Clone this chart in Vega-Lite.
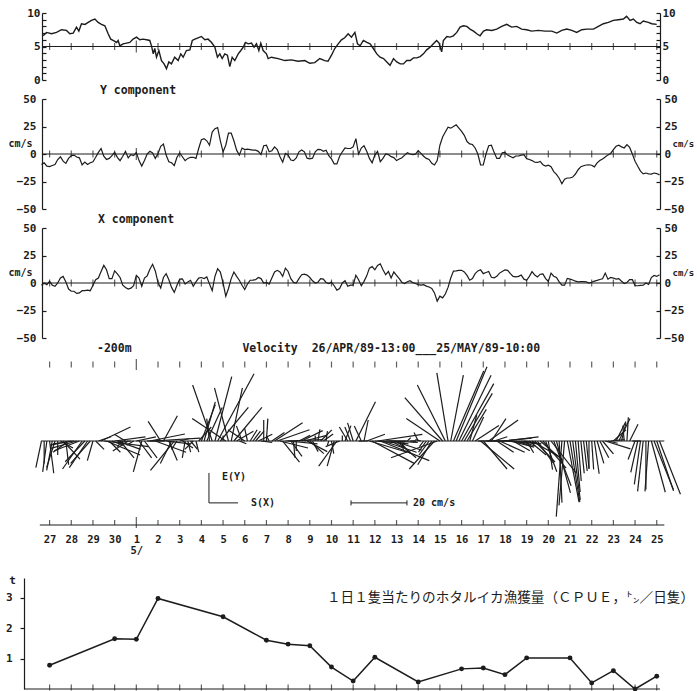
{
"$schema": "https://vega.github.io/schema/vega-lite/v6.json",
"background": "white",
"padding": {"left": 5, "top": 7, "right": 5, "bottom": 0},
"bounds": "flush",
"spacing": 19,
"config": {
  "view": {"stroke": null},
  "font": "DejaVu Sans Mono",
  "axis": {"labelFont": "DejaVu Sans Mono", "labelFontWeight": "bold", "labelFontSize": 11, "labelColor": "#1c1c1c", "domainColor": "#1c1c1c", "tickColor": "#1c1c1c", "grid": false, "domainWidth": 1.2, "tickWidth": 1.2, "titleFont": "DejaVu Sans Mono", "titleFontWeight": "bold", "titleFontSize": 10, "titleColor": "#1c1c1c"},
  "title": {"font": "DejaVu Sans Mono", "fontWeight": "bold", "fontSize": 11.5, "color": "#1c1c1c"},
  "line": {"color": "#1c1c1c", "strokeWidth": 1.2},
  "rule": {"color": "#1c1c1c", "strokeWidth": 1.2},
  "tick": {"color": "#1c1c1c"},
  "text": {"color": "#1c1c1c", "font": "DejaVu Sans Mono", "fontWeight": "bold", "fontSize": 10}
},
"datasets": {
  "days": [{"t":0},{"t":1},{"t":2},{"t":3},{"t":4},{"t":5},{"t":6},{"t":7},{"t":8},{"t":9},{"t":10},{"t":11},{"t":12},{"t":13},{"t":14},{"t":15},{"t":16},{"t":17},{"t":18},{"t":19},{"t":20},{"t":21},{"t":22},{"t":23},{"t":24},{"t":25},{"t":26},{"t":27},{"t":28}],
  "cpue": [{"t":0,"v":0.78},{"t":3,"v":1.65},{"t":4,"v":1.63},{"t":5,"v":2.97},{"t":8,"v":2.37},{"t":10,"v":1.6},{"t":11,"v":1.47},{"t":12,"v":1.42},{"t":13,"v":0.72},{"t":14,"v":0.26},{"t":15,"v":1.04},{"t":17,"v":0.23},{"t":19,"v":0.66},{"t":20,"v":0.69},{"t":21,"v":0.47},{"t":22,"v":1.02},{"t":24,"v":1.02},{"t":25,"v":0.2},{"t":26,"v":0.6},{"t":27,"v":0.0},{"t":28,"v":0.42}],
  "temp": [{"t":-0.30,"v":6.6},{"t":-0.14,"v":7.1},{"t":0.09,"v":6.9},{"t":0.32,"v":7.1},{"t":0.55,"v":7.5},{"t":0.78,"v":7.4},{"t":0.93,"v":6.9},{"t":1.09,"v":7.0},{"t":1.24,"v":7.9},{"t":1.35,"v":7.3},{"t":1.47,"v":8.4},{"t":1.63,"v":8.3},{"t":1.78,"v":8.6},{"t":1.93,"v":8.9},{"t":2.09,"v":9.1},{"t":2.24,"v":8.6},{"t":2.39,"v":8.3},{"t":2.55,"v":8.1},{"t":2.70,"v":6.9},{"t":2.82,"v":6.1},{"t":2.93,"v":5.9},{"t":3.09,"v":5.6},{"t":3.16,"v":5.9},{"t":3.24,"v":5.1},{"t":3.39,"v":5.4},{"t":3.55,"v":5.5},{"t":3.70,"v":5.6},{"t":3.85,"v":6.1},{"t":4.01,"v":6.4},{"t":4.16,"v":6.0},{"t":4.31,"v":6.1},{"t":4.47,"v":6.0},{"t":4.62,"v":5.9},{"t":4.70,"v":5.1},{"t":4.78,"v":3.9},{"t":4.85,"v":4.7},{"t":4.93,"v":3.4},{"t":5.04,"v":4.4},{"t":5.16,"v":2.9},{"t":5.28,"v":2.4},{"t":5.39,"v":1.7},{"t":5.50,"v":2.7},{"t":5.62,"v":2.4},{"t":5.77,"v":3.4},{"t":5.93,"v":2.9},{"t":6.05,"v":3.9},{"t":6.16,"v":3.4},{"t":6.31,"v":4.4},{"t":6.47,"v":4.5},{"t":6.58,"v":5.9},{"t":6.70,"v":6.1},{"t":6.85,"v":6.3},{"t":7.00,"v":6.5},{"t":7.16,"v":6.0},{"t":7.31,"v":6.1},{"t":7.47,"v":5.6},{"t":7.62,"v":4.9},{"t":7.74,"v":3.4},{"t":7.85,"v":3.9},{"t":7.96,"v":3.2},{"t":8.08,"v":3.9},{"t":8.20,"v":3.7},{"t":8.31,"v":2.0},{"t":8.42,"v":3.4},{"t":8.54,"v":2.9},{"t":8.70,"v":3.9},{"t":8.82,"v":4.4},{"t":8.93,"v":4.9},{"t":9.03,"v":5.6},{"t":9.16,"v":5.4},{"t":9.31,"v":5.5},{"t":9.43,"v":4.9},{"t":9.54,"v":5.4},{"t":9.65,"v":4.4},{"t":9.74,"v":5.5},{"t":9.85,"v":4.4},{"t":10.00,"v":3.9},{"t":10.08,"v":3.2},{"t":10.23,"v":3.4},{"t":10.54,"v":3.2},{"t":10.85,"v":2.9},{"t":11.15,"v":3.0},{"t":11.46,"v":2.8},{"t":11.77,"v":2.9},{"t":12.00,"v":2.5},{"t":12.23,"v":2.6},{"t":12.46,"v":3.2},{"t":12.69,"v":2.9},{"t":12.84,"v":2.8},{"t":13.00,"v":3.7},{"t":13.15,"v":4.7},{"t":13.31,"v":5.4},{"t":13.46,"v":6.0},{"t":13.61,"v":6.3},{"t":13.77,"v":6.9},{"t":13.92,"v":6.4},{"t":14.08,"v":7.1},{"t":14.20,"v":5.4},{"t":14.32,"v":5.1},{"t":14.47,"v":5.9},{"t":14.63,"v":5.6},{"t":14.78,"v":5.4},{"t":14.93,"v":4.7},{"t":15.09,"v":3.9},{"t":15.24,"v":3.4},{"t":15.40,"v":3.2},{"t":15.55,"v":2.7},{"t":15.70,"v":2.2},{"t":15.86,"v":3.2},{"t":16.01,"v":2.7},{"t":16.17,"v":2.4},{"t":16.32,"v":2.4},{"t":16.47,"v":2.9},{"t":16.63,"v":2.9},{"t":16.78,"v":3.3},{"t":16.93,"v":3.3},{"t":17.09,"v":3.5},{"t":17.24,"v":3.9},{"t":17.39,"v":4.5},{"t":17.55,"v":4.9},{"t":17.70,"v":5.4},{"t":17.85,"v":5.9},{"t":17.96,"v":5.5},{"t":18.08,"v":4.2},{"t":18.16,"v":5.9},{"t":18.32,"v":6.5},{"t":18.47,"v":6.4},{"t":18.62,"v":6.6},{"t":18.78,"v":7.1},{"t":18.93,"v":7.9},{"t":19.08,"v":8.1},{"t":19.24,"v":8.0},{"t":19.39,"v":7.6},{"t":19.55,"v":7.3},{"t":19.70,"v":6.9},{"t":19.85,"v":6.6},{"t":20.01,"v":7.3},{"t":20.16,"v":7.5},{"t":20.39,"v":7.4},{"t":20.62,"v":7.6},{"t":20.85,"v":8.0},{"t":21.08,"v":8.3},{"t":21.31,"v":7.9},{"t":21.54,"v":8.0},{"t":21.77,"v":7.6},{"t":22.00,"v":7.5},{"t":22.23,"v":7.3},{"t":22.54,"v":7.4},{"t":22.85,"v":7.3},{"t":23.16,"v":7.3},{"t":23.39,"v":7.0},{"t":23.62,"v":7.4},{"t":23.85,"v":7.6},{"t":24.08,"v":7.4},{"t":24.31,"v":7.1},{"t":24.54,"v":7.5},{"t":24.77,"v":7.6},{"t":25.08,"v":7.6},{"t":25.31,"v":8.0},{"t":25.54,"v":8.4},{"t":25.77,"v":8.6},{"t":26.00,"v":8.9},{"t":26.23,"v":9.0},{"t":26.46,"v":9.1},{"t":26.61,"v":9.5},{"t":26.77,"v":8.9},{"t":26.92,"v":9.1},{"t":27.08,"v":8.6},{"t":27.23,"v":8.4},{"t":27.38,"v":8.8},{"t":27.61,"v":8.6},{"t":27.77,"v":8.4},{"t":28.00,"v":8.3}],
  "vel": [{"t":-0.375,"y":-9.5,"x":-2},{"t":-0.25,"y":-8,"x":0},{"t":-0.125,"y":-11,"x":-1.5},{"t":0,"y":-11.5,"x":1.5},{"t":0.125,"y":-10.5,"x":-2},{"t":0.25,"y":-9.5,"x":-3},{"t":0.375,"y":-5,"x":0},{"t":0.5,"y":-2.5,"x":4.5},{"t":0.625,"y":-6.5,"x":6},{"t":0.75,"y":-8.5,"x":1},{"t":0.875,"y":-4,"x":-5.5},{"t":1,"y":-1.5,"x":-7.5},{"t":1.125,"y":-1,"x":-7.5},{"t":1.25,"y":-2.7,"x":-9.5},{"t":1.375,"y":-3.5,"x":-9},{"t":1.5,"y":-10,"x":-7},{"t":1.625,"y":-7.4,"x":-7},{"t":1.75,"y":-9.5,"x":-6.5},{"t":1.875,"y":-8,"x":-7},{"t":2,"y":-7,"x":-2},{"t":2.125,"y":-3,"x":3},{"t":2.25,"y":1.5,"x":4.5},{"t":2.375,"y":5,"x":10.5},{"t":2.5,"y":-2,"x":16},{"t":2.625,"y":-5,"x":12},{"t":2.75,"y":-4,"x":4},{"t":2.875,"y":-1.5,"x":4},{"t":3,"y":1.5,"x":11},{"t":3.125,"y":-3,"x":8.3},{"t":3.25,"y":-6,"x":5},{"t":3.375,"y":-2,"x":-2},{"t":3.5,"y":2.4,"x":-4},{"t":3.625,"y":-3.6,"x":-5.5},{"t":3.75,"y":-0.6,"x":-4.7},{"t":3.875,"y":-1.5,"x":-2.5},{"t":4,"y":1.5,"x":7},{"t":4.125,"y":-6,"x":4.5},{"t":4.25,"y":-11,"x":-3},{"t":4.375,"y":-6,"x":4.5},{"t":4.5,"y":0,"x":6.5},{"t":4.625,"y":2.5,"x":12.5},{"t":4.75,"y":1,"x":17},{"t":4.875,"y":-4,"x":11},{"t":5,"y":0.5,"x":0.5},{"t":5.125,"y":7,"x":-4.5},{"t":5.25,"y":9,"x":5},{"t":5.375,"y":-1,"x":8.5},{"t":5.5,"y":-7,"x":3},{"t":5.625,"y":-8,"x":-4},{"t":5.75,"y":-10.5,"x":-8.5},{"t":5.875,"y":-3,"x":-2},{"t":6,"y":0.9,"x":3.5},{"t":6.125,"y":-2.5,"x":3.8},{"t":6.25,"y":-6,"x":-1},{"t":6.375,"y":-4,"x":1},{"t":6.5,"y":-3,"x":2.5},{"t":6.625,"y":-3,"x":-3},{"t":6.75,"y":-4,"x":1},{"t":6.875,"y":5,"x":4.5},{"t":7,"y":13,"x":5},{"t":7.125,"y":14,"x":4},{"t":7.25,"y":12,"x":5.5},{"t":7.375,"y":8,"x":-1},{"t":7.5,"y":20,"x":-7},{"t":7.625,"y":23,"x":6},{"t":7.75,"y":24,"x":13},{"t":7.875,"y":12,"x":10},{"t":8,"y":2,"x":0},{"t":8.125,"y":8,"x":-12},{"t":8.25,"y":19,"x":-5},{"t":8.375,"y":19,"x":4},{"t":8.5,"y":12,"x":10},{"t":8.625,"y":3.5,"x":6},{"t":8.75,"y":-1,"x":2.5},{"t":8.875,"y":5.4,"x":-2},{"t":9,"y":4,"x":-6},{"t":9.125,"y":4.5,"x":-1},{"t":9.25,"y":4,"x":2.5},{"t":9.375,"y":3.5,"x":2.7},{"t":9.5,"y":3.5,"x":3},{"t":9.625,"y":2.4,"x":5},{"t":9.75,"y":-0.5,"x":4},{"t":9.875,"y":7.5,"x":0},{"t":10,"y":8,"x":0.5},{"t":10.125,"y":2,"x":-1},{"t":10.25,"y":3,"x":4.5},{"t":10.375,"y":6.5,"x":10},{"t":10.5,"y":4,"x":11.5},{"t":10.625,"y":-2.5,"x":10},{"t":10.75,"y":-7.5,"x":6},{"t":10.875,"y":0.5,"x":13.5},{"t":11,"y":-1,"x":10.5},{"t":11.125,"y":-5.5,"x":4},{"t":11.25,"y":-6,"x":0.5},{"t":11.375,"y":-3.6,"x":0},{"t":11.5,"y":2,"x":4},{"t":11.625,"y":3.7,"x":7.5},{"t":11.75,"y":2,"x":8},{"t":11.875,"y":-3.8,"x":7.2},{"t":12,"y":-4.5,"x":5},{"t":12.125,"y":-3.8,"x":2},{"t":12.25,"y":2,"x":0},{"t":12.375,"y":4.2,"x":0.7},{"t":12.5,"y":4,"x":4},{"t":12.625,"y":2.5,"x":3.5},{"t":12.75,"y":3.5,"x":0.5},{"t":12.875,"y":-1.5,"x":-0.5},{"t":13,"y":-4.5,"x":0.8},{"t":13.125,"y":-9,"x":-2.5},{"t":13.25,"y":-9,"x":-6.5},{"t":13.375,"y":-2,"x":-5},{"t":13.5,"y":2,"x":0},{"t":13.625,"y":5.5,"x":2.1},{"t":13.75,"y":5,"x":-3},{"t":13.875,"y":5,"x":-2},{"t":14,"y":6.5,"x":-2},{"t":14.125,"y":14,"x":7},{"t":14.25,"y":0,"x":3},{"t":14.375,"y":5.4,"x":-2.5},{"t":14.5,"y":7.5,"x":1.5},{"t":14.625,"y":2.4,"x":6.5},{"t":14.75,"y":-4,"x":13.5},{"t":14.875,"y":-8,"x":15},{"t":15,"y":-1,"x":12},{"t":15.125,"y":2.4,"x":16},{"t":15.25,"y":-7,"x":17.5},{"t":15.375,"y":-4,"x":12},{"t":15.5,"y":0,"x":7.5},{"t":15.625,"y":-0.5,"x":10.5},{"t":15.75,"y":-2.4,"x":4.5},{"t":15.875,"y":-3.3,"x":10},{"t":16,"y":-6,"x":7},{"t":16.125,"y":-4.5,"x":4},{"t":16.25,"y":-3.4,"x":0.5},{"t":16.375,"y":-1,"x":-0.5},{"t":16.5,"y":1.2,"x":1.2},{"t":16.625,"y":0,"x":2.1},{"t":16.75,"y":-0.5,"x":0.3},{"t":16.875,"y":-0.2,"x":-0.5},{"t":17,"y":3,"x":-1.5},{"t":17.125,"y":0.5,"x":-2},{"t":17.25,"y":-2,"x":-1.5},{"t":17.375,"y":-4,"x":-2.8},{"t":17.5,"y":-5,"x":-3.6},{"t":17.625,"y":-8.5,"x":-5},{"t":17.75,"y":-10,"x":-9},{"t":17.875,"y":-6,"x":-16.5},{"t":18,"y":8,"x":-12},{"t":18.125,"y":15.5,"x":-13.5},{"t":18.25,"y":20,"x":-10},{"t":18.375,"y":24.3,"x":-4},{"t":18.5,"y":23.5,"x":4.5},{"t":18.625,"y":25,"x":10.8},{"t":18.75,"y":26.5,"x":11},{"t":18.875,"y":23.5,"x":11.5},{"t":19,"y":20.5,"x":11.5},{"t":19.125,"y":17,"x":10},{"t":19.25,"y":11.3,"x":6.9},{"t":19.375,"y":9.2,"x":2.5},{"t":19.5,"y":8.6,"x":4},{"t":19.625,"y":5.5,"x":8.5},{"t":19.75,"y":0,"x":11},{"t":19.875,"y":-10,"x":12},{"t":20,"y":-10,"x":8.5},{"t":20.125,"y":0,"x":9.5},{"t":20.25,"y":7.5,"x":10.5},{"t":20.375,"y":8,"x":5.2},{"t":20.5,"y":1.5,"x":4.7},{"t":20.625,"y":-4,"x":6},{"t":20.75,"y":-4,"x":9},{"t":20.875,"y":1,"x":10.5},{"t":21,"y":1.5,"x":12},{"t":21.125,"y":-1,"x":11.5},{"t":21.25,"y":-2.2,"x":8.5},{"t":21.375,"y":-3.5,"x":6},{"t":21.5,"y":-1.8,"x":5.5},{"t":21.625,"y":-1.8,"x":6},{"t":21.75,"y":-1,"x":7.2},{"t":21.875,"y":-0.5,"x":3.5},{"t":22,"y":-4.2,"x":2.5},{"t":22.125,"y":-5,"x":6},{"t":22.25,"y":-6,"x":10.3},{"t":22.375,"y":-7.5,"x":7.2},{"t":22.5,"y":-7.7,"x":5.5},{"t":22.625,"y":-6.8,"x":8},{"t":22.75,"y":-9.7,"x":8.3},{"t":22.875,"y":-11,"x":4},{"t":23,"y":-10.2,"x":1.5},{"t":23.125,"y":-11.5,"x":9},{"t":23.25,"y":-16,"x":6.2},{"t":23.375,"y":-18.5,"x":5},{"t":23.5,"y":-22,"x":1},{"t":23.625,"y":-27,"x":-2},{"t":23.75,"y":-23,"x":-2},{"t":23.875,"y":-21.8,"x":4.2},{"t":24,"y":-21.8,"x":3.5},{"t":24.125,"y":-21,"x":2.7},{"t":24.25,"y":-18.2,"x":1.7},{"t":24.375,"y":-14.3,"x":1.1},{"t":24.5,"y":-11.5,"x":1.2},{"t":24.625,"y":-10.7,"x":1.3},{"t":24.75,"y":-10,"x":1},{"t":24.875,"y":-9.8,"x":0},{"t":25,"y":-10.2,"x":0.7},{"t":25.125,"y":-11.7,"x":1.7},{"t":25.25,"y":-8,"x":2.4},{"t":25.375,"y":-6,"x":3.2},{"t":25.5,"y":-4.6,"x":3.9},{"t":25.625,"y":-2.8,"x":9},{"t":25.75,"y":-0.8,"x":3.5},{"t":25.875,"y":0.5,"x":5},{"t":26,"y":4,"x":4.5},{"t":26.125,"y":7,"x":3.5},{"t":26.25,"y":8,"x":4},{"t":26.375,"y":6.5,"x":1.6},{"t":26.5,"y":5.5,"x":-0.5},{"t":26.625,"y":8.5,"x":0.5},{"t":26.75,"y":6,"x":3},{"t":26.875,"y":0,"x":3},{"t":27,"y":-6.6,"x":-2.5},{"t":27.125,"y":-11.2,"x":-2.5},{"t":27.25,"y":-15.5,"x":-2.2},{"t":27.375,"y":-18,"x":-2},{"t":27.5,"y":-17.3,"x":0},{"t":27.625,"y":-18,"x":-1.3},{"t":27.75,"y":-18.3,"x":5},{"t":27.875,"y":-17.3,"x":6.9},{"t":28,"y":-17.8,"x":6},{"t":28.125,"y":-19,"x":7.5}]
},
"vconcat": [
{
  "width": 618, "height": 67,
  "layer": [
    {"data": {"name": "temp"}, "mark": {"type": "line", "strokeWidth": 1.4},
     "encoding": {
       "x": {"field": "t", "type": "quantitative", "scale": {"domain": [-0.35, 28.15], "nice": false, "zero": false}, "axis": null},
       "y": {"field": "v", "type": "quantitative", "scale": {"domain": [0, 10], "nice": false}, "axis": {"orient": "left", "values": [0,1,2,3,4,5,6,7,8,9,10], "labelExpr": "datum.value % 5 === 0 ? datum.label : ''", "tickSize": -4, "labelPadding": 6, "title": null}}
     }},
    {"data": {"values": [{}]}, "mark": {"type": "rule"},
     "encoding": {
       "x": {"datum": -0.35, "type": "quantitative", "scale": {"domain": [-0.35, 28.15], "nice": false, "zero": false}, "axis": null},
       "x2": {"datum": 28.15},
       "y": {"datum": 5, "type": "quantitative", "scale": {"domain": [0, 10], "nice": false}, "axis": {"orient": "right", "values": [0,1,2,3,4,5,6,7,8,9,10], "labelExpr": "datum.value % 5 === 0 ? datum.label : ''", "tickSize": -4, "labelPadding": 6, "title": null}}
     }},
    {"data": {"name": "days"}, "mark": {"type": "tick", "orient": "vertical", "thickness": 1.2},
     "encoding": {
       "x": {"field": "t", "type": "quantitative", "scale": {"domain": [-0.35, 28.15], "nice": false, "zero": false}, "axis": null},
       "y": {"datum": 5, "type": "quantitative", "scale": {"domain": [0, 10], "nice": false}, "axis": null},
       "size": {"condition": {"test": "datum.t == 4", "value": 12}, "value": 7}
     }}
  ],
  "resolve": {"axis": {"y": "independent"}}
},
{
  "width": 618, "height": 110,
  "title": {"text": "Y component", "anchor": "start", "frame": "group", "dx": 58, "offset": -9, "baseline": "middle"},
  "layer": [
    {"data": {"name": "vel"}, "mark": {"type": "line", "strokeWidth": 1.2},
     "encoding": {
       "x": {"field": "t", "type": "quantitative", "scale": {"domain": [-0.35, 28.15], "nice": false, "zero": false}, "axis": null},
       "y": {"field": "y", "type": "quantitative", "scale": {"domain": [-50, 50], "nice": false}, "axis": {"orient": "left", "values": [-50,-25,0,25,50], "tickSize": -4, "labelPadding": 10, "title": "cm/s", "titleAngle": 0, "titleX": -10, "titleY": 44, "titleAlign": "right", "titleBaseline": "middle"}}
     }},
    {"data": {"values": [{}]}, "mark": {"type": "rule"},
     "encoding": {
       "x": {"datum": -0.35, "type": "quantitative", "scale": {"domain": [-0.35, 28.15], "nice": false, "zero": false}, "axis": null},
       "x2": {"datum": 28.15},
       "y": {"datum": 0, "type": "quantitative", "scale": {"domain": [-50, 50], "nice": false}, "axis": {"orient": "right", "values": [-50,-25,0,25,50], "tickSize": -4, "labelPadding": 8, "title": "cm/s", "titleAngle": 0, "titleX": 12, "titleY": 44, "titleAlign": "left", "titleBaseline": "middle", "titleFontSize": 9}}
     }},
    {"data": {"name": "days"}, "mark": {"type": "tick", "orient": "vertical", "thickness": 1.2},
     "encoding": {
       "x": {"field": "t", "type": "quantitative", "scale": {"domain": [-0.35, 28.15], "nice": false, "zero": false}, "axis": null},
       "y": {"datum": 0, "type": "quantitative", "scale": {"domain": [-50, 50], "nice": false}, "axis": null},
       "size": {"condition": {"test": "datum.t == 4", "value": 12}, "value": 7}
     }}
  ],
  "resolve": {"axis": {"y": "independent"}}
},
{
  "width": 618, "height": 110,
  "title": {"text": "X component", "anchor": "start", "frame": "group", "dx": 56, "offset": -9, "baseline": "middle"},
  "layer": [
    {"data": {"name": "vel"}, "mark": {"type": "line", "strokeWidth": 1.2},
     "encoding": {
       "x": {"field": "t", "type": "quantitative", "scale": {"domain": [-0.35, 28.15], "nice": false, "zero": false}, "axis": null},
       "y": {"field": "x", "type": "quantitative", "scale": {"domain": [-50, 50], "nice": false}, "axis": {"orient": "left", "values": [-50,-25,0,25,50], "tickSize": -4, "labelPadding": 10, "title": "cm/s", "titleAngle": 0, "titleX": -10, "titleY": 44, "titleAlign": "right", "titleBaseline": "middle"}}
     }},
    {"data": {"values": [{}]}, "mark": {"type": "rule"},
     "encoding": {
       "x": {"datum": -0.35, "type": "quantitative", "scale": {"domain": [-0.35, 28.15], "nice": false, "zero": false}, "axis": null},
       "x2": {"datum": 28.15},
       "y": {"datum": 0, "type": "quantitative", "scale": {"domain": [-50, 50], "nice": false}, "axis": {"orient": "right", "values": [-50,-25,0,25,50], "tickSize": -4, "labelPadding": 8, "title": "cm/s", "titleAngle": 0, "titleX": 12, "titleY": 44, "titleAlign": "left", "titleBaseline": "middle", "titleFontSize": 9}}
     }},
    {"data": {"name": "days"}, "mark": {"type": "tick", "orient": "vertical", "thickness": 1.2},
     "encoding": {
       "x": {"field": "t", "type": "quantitative", "scale": {"domain": [-0.35, 28.15], "nice": false, "zero": false}, "axis": null},
       "y": {"datum": 0, "type": "quantitative", "scale": {"domain": [-50, 50], "nice": false}, "axis": null},
       "size": {"condition": {"test": "datum.t == 4", "value": 12}, "value": 7}
     }}
  ],
  "resolve": {"axis": {"y": "independent"}}
},
{
  "width": 618, "height": 202,
  "title": {"text": "-200m\u00a0\u00a0\u00a0\u00a0\u00a0\u00a0\u00a0\u00a0\u00a0\u00a0\u00a0\u00a0\u00a0\u00a0\u00a0\u00a0Velocity\u00a0\u00a026/APR/89-13:00___25/MAY/89-10:00", "anchor": "start", "frame": "group", "dx": 55, "offset": -3, "baseline": "middle"},
  "layer": [
    {"data": {"name": "vel"}, "transform": [{"calculate": "datum.t + 0.1291 * datum.x", "as": "tx"}],
     "mark": {"type": "rule", "strokeWidth": 1.2},
     "encoding": {
       "x": {"field": "tx", "type": "quantitative", "scale": {"domain": [-0.35, 28.15], "nice": false, "zero": false}, "axis": null},
       "y": {"field": "y", "type": "quantitative", "scale": {"domain": [-42.14, 30], "nice": false, "zero": false}, "axis": null},
       "x2": {"field": "t"},
       "y2": {"datum": 0}
     }},
    {"data": {"values": [{}]}, "mark": {"type": "rule"},
     "encoding": {
       "x": {"datum": -0.4, "type": "quantitative", "scale": {"domain": [-0.35, 28.15], "nice": false, "zero": false}, "axis": null},
       "x2": {"datum": 28.35},
       "y": {"datum": 0, "type": "quantitative", "scale": {"domain": [-42.14, 30], "nice": false, "zero": false}, "axis": null}
     }},
    {"data": {"values": [{}]}, "mark": {"type": "rule"},
     "encoding": {
       "x": {"datum": -0.45, "type": "quantitative", "scale": {"domain": [-0.35, 28.15], "nice": false, "zero": false}, "axis": null},
       "x2": {"datum": 28.35},
       "y": {"datum": -30, "type": "quantitative", "scale": {"domain": [-42.14, 30], "nice": false, "zero": false}, "axis": null}
     }},
    {"data": {"name": "days"}, "mark": {"type": "tick", "orient": "vertical", "thickness": 1.2},
     "encoding": {
       "x": {"field": "t", "type": "quantitative", "scale": {"domain": [-0.35, 28.15], "nice": false, "zero": false}, "axis": null},
       "y": {"datum": 27.3, "type": "quantitative", "scale": {"domain": [-42.14, 30], "nice": false, "zero": false}, "axis": null},
       "size": {"condition": {"test": "datum.t == 4", "value": 11}, "value": 6}
     }},
    {"data": {"name": "days"}, "mark": {"type": "tick", "orient": "vertical", "thickness": 1.2},
     "encoding": {
       "x": {"field": "t", "type": "quantitative", "scale": {"domain": [-0.35, 28.15], "nice": false, "zero": false}, "axis": {"orient": "bottom", "offset": -34, "domain": false, "ticks": false, "values": [0,1,2,3,4,5,6,7,8,9,10,11,12,13,14,15,16,17,18,19,20,21,22,23,24,25,26,27,28], "labelExpr": "datum.value < 3.5 ? '' + (datum.value + 27) : (datum.value < 4.5 ? ['1', '5/'] : '' + (datum.value - 3))", "labelPadding": 9, "labelFontSize": 10.5, "labelLineHeight": 11, "labelFlush": false, "labelOverlap": false, "title": null}},
       "y": {"datum": -29.1, "type": "quantitative", "scale": {"domain": [-42.14, 30], "nice": false, "zero": false}, "axis": null},
       "size": {"condition": {"test": "datum.t == 4", "value": 11}, "value": 5}
     }},
    {"data": {"values": [{}]}, "mark": {"type": "rule", "strokeWidth": 1},
     "encoding": {
       "x": {"datum": 7.35, "type": "quantitative", "scale": {"domain": [-0.35, 28.15], "nice": false, "zero": false}, "axis": null},
       "y": {"datum": -11.4, "type": "quantitative", "scale": {"domain": [-42.14, 30], "nice": false, "zero": false}, "axis": null},
       "y2": {"datum": -22.1}
     }},
    {"data": {"values": [{}]}, "mark": {"type": "rule", "strokeWidth": 1},
     "encoding": {
       "x": {"datum": 7.35, "type": "quantitative", "scale": {"domain": [-0.35, 28.15], "nice": false, "zero": false}, "axis": null},
       "x2": {"datum": 8.69},
       "y": {"datum": -22.1, "type": "quantitative", "scale": {"domain": [-42.14, 30], "nice": false, "zero": false}, "axis": null}
     }},
    {"data": {"values": [{}]}, "mark": {"type": "rule", "strokeWidth": 1},
     "encoding": {
       "x": {"datum": 13.9, "type": "quantitative", "scale": {"domain": [-0.35, 28.15], "nice": false, "zero": false}, "axis": null},
       "x2": {"datum": 16.48},
       "y": {"datum": -22.1, "type": "quantitative", "scale": {"domain": [-42.14, 30], "nice": false, "zero": false}, "axis": null}
     }},
    {"data": {"values": [{}]}, "mark": {"type": "rule", "strokeWidth": 1},
     "encoding": {
       "x": {"datum": 13.9, "type": "quantitative", "scale": {"domain": [-0.35, 28.15], "nice": false, "zero": false}, "axis": null},
       "y": {"datum": -21.2, "type": "quantitative", "scale": {"domain": [-42.14, 30], "nice": false, "zero": false}, "axis": null},
       "y2": {"datum": -23.0}
     }},
    {"data": {"values": [{}]}, "mark": {"type": "rule", "strokeWidth": 1},
     "encoding": {
       "x": {"datum": 16.48, "type": "quantitative", "scale": {"domain": [-0.35, 28.15], "nice": false, "zero": false}, "axis": null},
       "y": {"datum": -21.2, "type": "quantitative", "scale": {"domain": [-42.14, 30], "nice": false, "zero": false}, "axis": null},
       "y2": {"datum": -23.0}
     }},
    {"data": {"values": [{}]}, "mark": {"type": "text", "align": "left", "baseline": "middle"},
     "encoding": {
       "x": {"datum": 7.95, "type": "quantitative", "scale": {"domain": [-0.35, 28.15], "nice": false, "zero": false}, "axis": null},
       "y": {"datum": -12.75, "type": "quantitative", "scale": {"domain": [-42.14, 30], "nice": false, "zero": false}, "axis": null},
       "text": {"value": "E(Y)"}
     }},
    {"data": {"values": [{}]}, "mark": {"type": "text", "align": "left", "baseline": "middle"},
     "encoding": {
       "x": {"datum": 9.29, "type": "quantitative", "scale": {"domain": [-0.35, 28.15], "nice": false, "zero": false}, "axis": null},
       "y": {"datum": -22.1, "type": "quantitative", "scale": {"domain": [-42.14, 30], "nice": false, "zero": false}, "axis": null},
       "text": {"value": "S(X)"}
     }},
    {"data": {"values": [{}]}, "mark": {"type": "text", "align": "left", "baseline": "middle"},
     "encoding": {
       "x": {"datum": 16.76, "type": "quantitative", "scale": {"domain": [-0.35, 28.15], "nice": false, "zero": false}, "axis": null},
       "y": {"datum": -22.1, "type": "quantitative", "scale": {"domain": [-42.14, 30], "nice": false, "zero": false}, "axis": null},
       "text": {"value": "20 cm/s"}
     }}
  ],
  "resolve": {"axis": {"x": "independent"}}
},
{
  "width": 618, "height": 111,
  "title": {"text": "１日１隻当たりのホタルイカ漁獲量（ＣＰＵＥ，㌧／日隻）", "font": "Noto Sans CJK JP", "fontWeight": "normal", "fontSize": 13.6, "anchor": "end", "frame": "group", "dx": 34, "offset": -38, "baseline": "middle"},
  "layer": [
    {"data": {"values": [{}]}, "mark": {"type": "rule"},
     "encoding": {
       "x": {"datum": -1.17, "type": "quantitative", "scale": {"domain": [-0.35, 28.15], "nice": false, "zero": false}, "axis": null},
       "x2": {"datum": 28.15},
       "y": {"datum": 0, "type": "quantitative", "scale": {"domain": [0, 3.64], "nice": false}, "axis": null}
     }},
    {"data": {"name": "days"}, "mark": {"type": "tick", "orient": "vertical", "thickness": 1.2},
     "encoding": {
       "x": {"field": "t", "type": "quantitative", "scale": {"domain": [-0.35, 28.15], "nice": false, "zero": false}, "axis": null},
       "y": {"datum": 0.05, "type": "quantitative", "scale": {"domain": [0, 3.64], "nice": false}, "axis": null},
       "size": {"value": 6}
     }},
    {"data": {"name": "cpue"}, "mark": {"type": "line", "strokeWidth": 1.5},
     "encoding": {
       "x": {"field": "t", "type": "quantitative", "scale": {"domain": [-0.35, 28.15], "nice": false, "zero": false}, "axis": null},
       "y": {"field": "v", "type": "quantitative", "scale": {"domain": [0, 3.64], "nice": false}, "axis": {"orient": "left", "offset": 18, "values": [1, 2, 3], "tickSize": 4, "labelPadding": 8, "title": "t", "titleAngle": 0, "titleX": -12, "titleY": 2, "titleAlign": "center", "titleBaseline": "middle", "titleFontSize": 11}}
     }},
    {"data": {"name": "cpue"}, "mark": {"type": "point", "filled": true, "size": 24, "opacity": 1, "color": "#1c1c1c"},
     "encoding": {
       "x": {"field": "t", "type": "quantitative", "scale": {"domain": [-0.35, 28.15], "nice": false, "zero": false}, "axis": null},
       "y": {"field": "v", "type": "quantitative", "scale": {"domain": [0, 3.64], "nice": false}, "axis": null}
     }}
  ],
  "resolve": {"axis": {"y": "independent"}}
}
]
}
